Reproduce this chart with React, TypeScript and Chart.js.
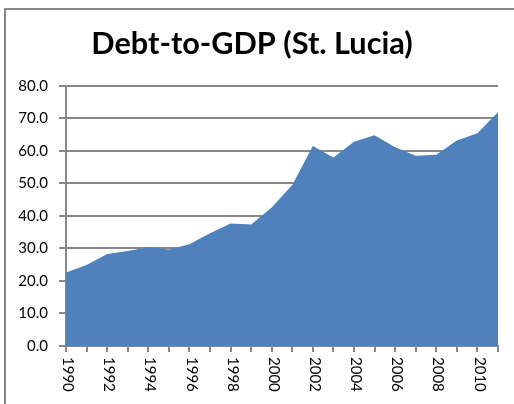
import React, { useEffect, useRef } from "react";
import { Chart, registerables } from "chart.js";

Chart.register(...registerables);

const years: string[] = [
  "1990", "1991", "1992", "1993", "1994", "1995", "1996", "1997", "1998", "1999", "2000",
  "2001", "2002", "2003", "2004", "2005", "2006", "2007", "2008", "2009", "2010", "2011",
];
const debtToGdp: number[] = [
  22.6, 24.9, 28.3, 29.2, 30.4, 29.7, 31.3, 34.7, 37.7, 37.4, 42.6,
  49.5, 61.5, 58.0, 62.8, 64.8, 61.1, 58.5, 58.8, 63.2, 65.4, 71.9,
];
const yTicksMin = 0;
const yTicksMax = 80;
const yStep = 10;
const titleText = "Debt-to-GDP (St. Lucia)";

const GRID = "#878787";
const FONT = "Lato";

const verticalLabels = {
  id: "verticalLabels",
  afterDraw(chart: any) {
    const xs = chart.scales.x;
    const ctx = chart.ctx;
    ctx.save();
    ctx.fillStyle = "#000";
    ctx.font = `15px ${FONT}`;
    ctx.textAlign = "left";
    ctx.textBaseline = "middle";
    years.forEach((lab, i) => {
      if (i % 2 !== 0) return;
      const x = xs.getPixelForValue(i);
      ctx.save();
      ctx.translate(x + 2, xs.top + 11);
      ctx.rotate(Math.PI / 2);
      ctx.fillText(lab, 0, 0);
      ctx.restore();
    });
    ctx.restore();
  },
};

export default function App() {
  const ref = useRef<HTMLCanvasElement | null>(null);
  useEffect(() => {
    if (!ref.current) return;
    const chart = new Chart(ref.current, {
      type: "line",
      data: {
        labels: years,
        datasets: [
          {
            data: debtToGdp,
            fill: "origin",
            backgroundColor: "#4F81BD",
            borderWidth: 0,
            borderColor: "#4F81BD",
            pointRadius: 0,
            tension: 0,
          },
        ],
      },
      options: {
        animation: false,
        responsive: false,
        layout: { padding: { left: 0, right: 16, top: 0, bottom: 0 } },
        plugins: {
          legend: { display: false },
          tooltip: { enabled: false },
          title: {
            display: true,
            text: titleText,
            color: "#000",
            font: { family: FONT, size: 30.7, weight: "bold", lineHeight: 1.2 },
            padding: { top: 16, bottom: 23 },
          },
        },
        scales: {
          x: {
            type: "category",
            offset: false,
            afterFit: (s: any) => {
              s.height = 58;
            },
            grid: {
              display: true,
              drawOnChartArea: false,
              drawTicks: true,
              tickLength: 6,
              color: GRID,
              lineWidth: 2,
            },
            border: { display: true, color: GRID, width: 2 },
            ticks: { display: false, autoSkip: false },
          },
          y: {
            min: yTicksMin,
            max: yTicksMax,
            afterFit: (s: any) => {
              s.width = 60;
            },
            grid: {
              color: GRID,
              lineWidth: 2,
              drawTicks: true,
              tickLength: 7,
            },
            border: { display: true, color: GRID, width: 2 },
            ticks: {
              stepSize: yStep,
              color: "#000",
              padding: 11,
              font: { family: FONT, size: 15 },
              callback: (v: any) => Number(v).toFixed(1),
            },
          },
        },
      },
      plugins: [verticalLabels],
    });
    return () => chart.destroy();
  }, []);

  return (
    <div
      style={{
        position: "absolute",
        left: 4,
        top: 8,
        width: 510,
        height: 396,
        boxSizing: "border-box",
        borderLeft: "2px solid #888",
        borderTop: "2px solid #888",
        background: "#fff",
      }}
    >
      <canvas ref={ref} width={508} height={394} style={{ display: "block" }} />
    </div>
  );
}
